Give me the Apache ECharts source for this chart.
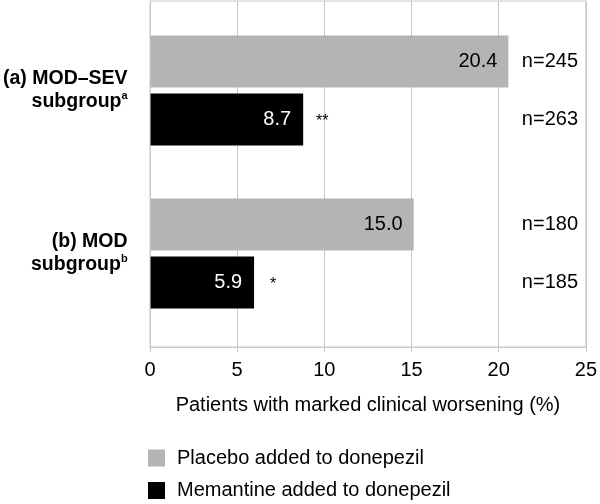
<!DOCTYPE html>
<html>
<head>
<meta charset="utf-8">
<script src="https://cdn.jsdelivr.net/npm/echarts@6/dist/echarts.min.js"></script>
<style>html,body{margin:0;padding:0;background:#fff}#c{width:600px;height:504px}</style>
</head>
<body>
<div id="c"></div>
<script>
const categories = ['(a) MOD–SEV', '(b) MOD'];
const subLabel = 'subgroup';
const superscripts = ['a', 'b'];
const seriesNames = ['Placebo added to donepezil', 'Memantine added to donepezil'];
const placebo = [20.4, 15.0];
const memantine = [8.7, 5.9];
const placeboN = ['n=245', 'n=180'];
const memantineN = ['n=263', 'n=185'];
const significance = ['**', '*'];
const xMin = 0, xMax = 25, xStep = 5;
const axisTitle = 'Patients with marked clinical worsening (%)';

const FONT = 'Liberation Sans, Arial, sans-serif';
const FS = 20;
const GRID_COLOR = '#c8c8c8';
const GRAY = '#b4b4b4';

const chart = echarts.init(document.getElementById('c'), null, {renderer: 'canvas'});
chart.setOption({
  animation: false,
  textStyle: {fontFamily: FONT},
  grid: [
    {left: 150, right: 11, top: 1, bottom: 157, show: true, borderColor: GRID_COLOR, borderWidth: 1},
    {left: 150, right: 11, top: 9, height: 326}
  ],
  legend: {
    orient: 'vertical', left: 148, top: 447, padding: 0, itemWidth: 17, itemHeight: 17, itemGap: 10.5,
    icon: 'rect', data: seriesNames,
    textStyle: {fontSize: FS, color: '#000', fontFamily: FONT, lineHeight: 22, padding: [0, 0, 0, 7]}
  },
  xAxis: [
    {gridIndex: 0, type: 'value', min: xMin, max: xMax, interval: xStep,
     axisLine: {show: true, lineStyle: {color: GRID_COLOR}},
     axisTick: {show: true, length: 5, lineStyle: {color: GRID_COLOR}},
     splitLine: {show: true, lineStyle: {color: GRID_COLOR}},
     axisLabel: {fontSize: FS, color: '#000', margin: 13, fontFamily: FONT},
     name: axisTitle, nameLocation: 'middle', nameGap: 48,
     nameTextStyle: {fontSize: FS, color: '#000', fontFamily: FONT}},
    {gridIndex: 1, type: 'value', min: xMin, max: xMax, interval: xStep, show: false}
  ],
  yAxis: [
    {gridIndex: 0, type: 'value', min: 0, max: 1, axisLine: {show: true, lineStyle: {color: GRID_COLOR}},
     axisTick: {show: false}, axisLabel: {show: false}, splitLine: {show: false}},
    {gridIndex: 1, type: 'category', data: categories, inverse: true,
     axisLine: {show: false}, axisTick: {show: false},
     axisLabel: {
       margin: 23, align: 'right',
       formatter: (v, i) => '{b|' + v + '}\n{b|' + subLabel + '}{sup|' + superscripts[i] + '}',
       rich: {
         b: {fontSize: 19.5, fontWeight: 'bold', color: '#000', lineHeight: 23, fontFamily: FONT},
         sup: {fontSize: 11, fontWeight: 'bold', color: '#000', lineHeight: 11, verticalAlign: 'top', fontFamily: FONT}
       }
     }},
    {gridIndex: 1, type: 'category', data: categories, inverse: true, position: 'right',
     axisLine: {show: false}, axisTick: {show: false},
     axisLabel: {
       inside: true, margin: 11,
       formatter: (v, i) => placeboN[i] + '\n' + memantineN[i],
       fontSize: FS, color: '#000', lineHeight: 58.5, fontFamily: FONT
     }}
  ],
  series: [
    {name: seriesNames[0], type: 'bar', xAxisIndex: 1, yAxisIndex: 1, data: placebo,
     barWidth: 52, barGap: '12%', itemStyle: {color: GRAY},
     label: {show: true, position: 'insideRight', distance: 11, fontSize: FS, color: '#000',
       fontFamily: FONT, formatter: p => p.value.toFixed(1)}},
    {name: seriesNames[1], type: 'bar', xAxisIndex: 1, yAxisIndex: 1, data: memantine,
     barWidth: 52, barGap: '12%', itemStyle: {color: '#000'},
     label: {show: true, position: 'insideRight', distance: 12, offset: [38, 0],
       formatter: p => '{v|' + p.value.toFixed(1) + '}{g|}{s|' + significance[p.dataIndex] + '}',
       rich: {
         v: {fontSize: FS, color: '#fff', fontFamily: FONT},
         g: {width: 24},
         s: {width: 14, align: 'left', fontSize: 16, color: '#000', fontFamily: FONT, padding: [4, 0, 0, 0]}
       }}}
  ]
});
</script>
</body>
</html>
